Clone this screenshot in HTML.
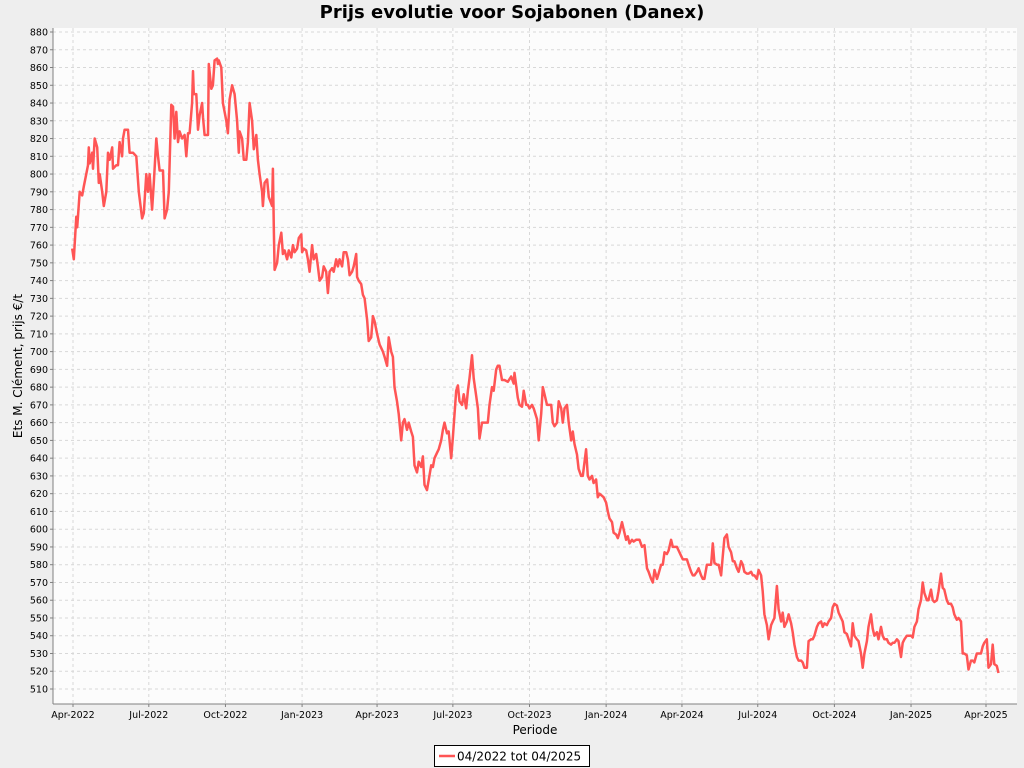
<!DOCTYPE html>
<html><head><meta charset="utf-8"><style>
body{margin:0;background:#eeeeee;width:1024px;height:768px;overflow:hidden;font-family:"DejaVu Sans","Liberation Sans",sans-serif}
svg{display:block}
</style></head><body>
<svg id="chart" width="1024" height="768">
<rect x="0" y="0" width="1024" height="768" fill="#eeeeee"/>
<text x="512" y="18" text-anchor="middle" font-size="18" font-weight="bold" fill="#000">Prijs evolutie voor Sojabonen (Danex)</text>
<rect x="53" y="28" width="964" height="676" fill="#fcfcfc"/>
<g id="grid"></g>
<g id="yticks"></g>
<g id="xticks"></g>
<g id="series"></g>
<line x1="53" y1="28" x2="53" y2="704" stroke="#808080"/>
<line x1="53" y1="704" x2="1017" y2="704" stroke="#808080"/>
<text x="22" y="366" transform="rotate(-90 22 366)" text-anchor="middle" font-size="12" fill="#000">Ets M. Clément, prijs €/t</text>
<text x="535" y="734" text-anchor="middle" font-size="12" fill="#000">Periode</text>
<g>
<rect x="434.5" y="745.5" width="155" height="21" fill="#fff" stroke="#000"/>
<line x1="439" y1="756" x2="455" y2="756" stroke="#ff5555" stroke-width="2.5"/>
<text x="457" y="760.5" font-size="12" fill="#000">04/2022 tot 04/2025</text>
</g>
</svg>
<script>
const tickValues=[510,520,530,540,550,560,570,580,590,600,610,620,630,640,650,660,670,680,690,700,710,720,730,740,750,760,770,780,790,800,810,820,830,840,850,860,870,880];
const xTickLabels=["Apr-2022","Jul-2022","Oct-2022","Jan-2023","Apr-2023","Jul-2023","Oct-2023","Jan-2024","Apr-2024","Jul-2024","Oct-2024","Jan-2025","Apr-2025"];
const xTickDates=["2022-04-01","2022-07-01","2022-10-01","2023-01-01","2023-04-01","2023-07-01","2023-10-01","2024-01-01","2024-04-01","2024-07-01","2024-10-01","2025-01-01","2025-04-01"];
const days=[-1,1,4,5,8,11,13,18,19,20,23,24,26,29,31,32,35,37,40,42,44,47,48,52,54,56,59,60,62,66,68,72,76,79,83,85,88,90,92,95,97,100,102,104,108,110,113,115,118,120,122,124,126,128,131,134,136,138,140,143,144,145,148,150,152,155,156,158,162,163,166,168,170,173,174,175,178,180,184,186,188,191,194,197,199,200,203,205,208,210,212,215,217,220,222,224,227,228,230,233,235,239,240,241,242,245,247,250,252,254,257,259,262,264,266,269,271,274,275,277,280,282,284,287,289,292,294,296,299,301,304,306,308,311,313,316,318,320,323,325,328,330,332,335,337,340,341,343,346,348,350,353,355,358,360,362,365,368,372,374,377,379,382,384,386,389,391,394,396,398,401,403,406,408,410,413,415,418,420,422,425,430,432,434,437,439,442,444,446,449,451,454,456,460,462,464,467,469,472,474,476,479,481,484,486,488,491,493,496,498,500,503,505,508,510,512,515,518,522,526,529,530,534,536,539,541,544,546,548,551,553,557,559,562,564,566,569,571,574,576,578,581,583,586,588,590,593,595,598,600,602,605,607,610,612,616,618,620,623,625,628,630,632,637,640,642,644,647,649,652,654,656,659,661,664,666,668,671,673,676,680,683,686,689,691,694,696,698,701,703,706,708,710,713,715,718,720,722,725,727,730,732,734,737,739,742,744,746,749,751,754,756,758,761,763,766,768,770,773,775,778,780,782,785,787,790,792,794,797,799,802,804,806,809,811,814,816,818,821,823,826,828,830,833,835,838,840,842,845,847,850,852,854,857,859,862,864,866,869,871,874,876,878,881,883,886,888,890,893,895,898,900,902,905,907,910,912,914,917,919,922,924,926,929,931,934,936,938,941,943,946,948,950,953,955,958,960,962,965,967,970,972,974,977,979,982,984,986,989,991,994,996,998,1001,1006,1008,1010,1013,1015,1018,1020,1022,1025,1027,1030,1032,1034,1037,1039,1042,1044,1046,1049,1051,1054,1056,1058,1061,1063,1066,1068,1070,1073,1075,1078,1080,1082,1085,1087,1090,1092,1094,1097,1098,1099,1102,1104,1106,1109,1111];
const prices=[758,752,776,770,790,788,793,805,815,806,812,803,820,815,795,800,790,782,790,812,808,815,803,805,805,818,810,820,825,825,812,812,810,790,775,778,800,790,800,780,795,820,810,802,802,775,780,790,839,838,820,835,818,824,820,822,810,823,823,840,858,845,845,825,833,840,832,822,822,862,848,850,864,865,862,864,860,840,830,823,842,850,845,830,812,824,820,808,808,818,840,830,814,822,808,800,790,782,795,797,787,782,803,770,746,750,760,767,755,757,752,757,753,760,756,758,764,766,756,758,757,752,745,760,752,755,748,740,742,748,745,733,745,747,745,752,748,752,748,756,756,752,743,745,748,755,742,740,738,732,730,718,706,708,720,717,710,704,700,697,692,708,700,697,680,672,665,650,660,662,656,660,655,652,636,632,638,635,641,625,622,636,635,640,643,645,650,656,660,654,655,640,652,678,681,672,670,676,668,678,685,698,685,675,668,651,660,660,660,660,670,680,678,690,692,692,684,684,683,686,682,688,674,670,669,678,670,670,668,670,668,662,650,665,680,676,670,670,670,660,658,660,672,668,660,668,670,660,650,655,648,642,634,630,630,645,630,628,630,626,628,618,620,618,615,610,606,604,598,597,595,598,604,600,594,596,592,594,593,594,594,590,591,578,576,572,570,577,572,575,580,580,587,586,588,594,590,590,590,588,585,583,583,583,580,576,574,574,576,578,574,572,572,580,580,580,592,581,580,580,574,585,595,597,590,587,582,582,578,576,582,580,576,575,575,576,574,574,572,577,574,565,552,546,538,546,548,550,568,555,548,553,545,548,552,547,542,535,528,526,526,525,522,522,537,538,538,540,545,547,548,545,547,546,548,550,556,558,557,553,550,548,542,541,538,534,547,540,538,537,530,522,530,537,545,552,544,540,542,538,545,540,538,538,536,535,536,536,538,537,528,536,538,540,540,539,545,548,555,560,570,564,560,560,566,560,559,560,565,575,567,566,560,558,558,556,552,549,550,548,530,530,529,521,526,526,525,530,530,530,534,536,538,530,522,524,535,524,523,519];
const NS="http://www.w3.org/2000/svg";
const L=53,R=1017,T=28,B=704;
const yMin=510,yMax=880;
function yScale(v){return 689+(yMin-v)*(689-32)/(yMax-yMin);}
const base=Date.UTC(2022,3,1);
function dayOf(s){const p=s.split("-");return (Date.UTC(+p[0],+p[1]-1,+p[2])-base)/86400000;}
function xScale(d){return 73+d*913/1096;}
const grid=document.getElementById("grid"),yt=document.getElementById("yticks"),xt=document.getElementById("xticks"),ser=document.getElementById("series");
function mk(tag,attrs,parent){const e=document.createElementNS(NS,tag);for(const k in attrs)e.setAttribute(k,attrs[k]);parent.appendChild(e);return e;}
tickValues.forEach(v=>{
  const y=yScale(v);
  const g=mk("line",{x1:L,x2:R,y1:y,y2:y,stroke:"#d8d8d8","stroke-dasharray":"3,3","stroke-width":1},grid);
  
  
  mk("line",{x1:L-3,x2:L,y1:y,y2:y,stroke:"#808080"},yt);
  const t=mk("text",{x:L-5,y:y+3.5,"text-anchor":"end","font-size":"9.5",fill:"#000"},yt);
  t.textContent=v;
  
  
});
xTickLabels.forEach((lab,i)=>{
  const x=xScale(dayOf(xTickDates[i]));
  const g=mk("line",{x1:x,x2:x,y1:T,y2:B,stroke:"#d8d8d8","stroke-dasharray":"3,3","stroke-width":1},grid);
  
  
  mk("line",{x1:x,x2:x,y1:B,y2:B+3,stroke:"#808080"},xt);
  const t=mk("text",{x:x,y:B+14,"text-anchor":"middle","font-size":"9.5",fill:"#000"},xt);
  t.textContent=lab;
  
  
});
let d="";
days.forEach((dd,i)=>{d+=(i?"L":"M")+xScale(dd).toFixed(1)+","+yScale(prices[i]).toFixed(1);});
const p=mk("path",{d:d,fill:"none",stroke:"#ff5555","stroke-width":2.5,"stroke-linejoin":"round"},ser);


</script>
</body></html>
